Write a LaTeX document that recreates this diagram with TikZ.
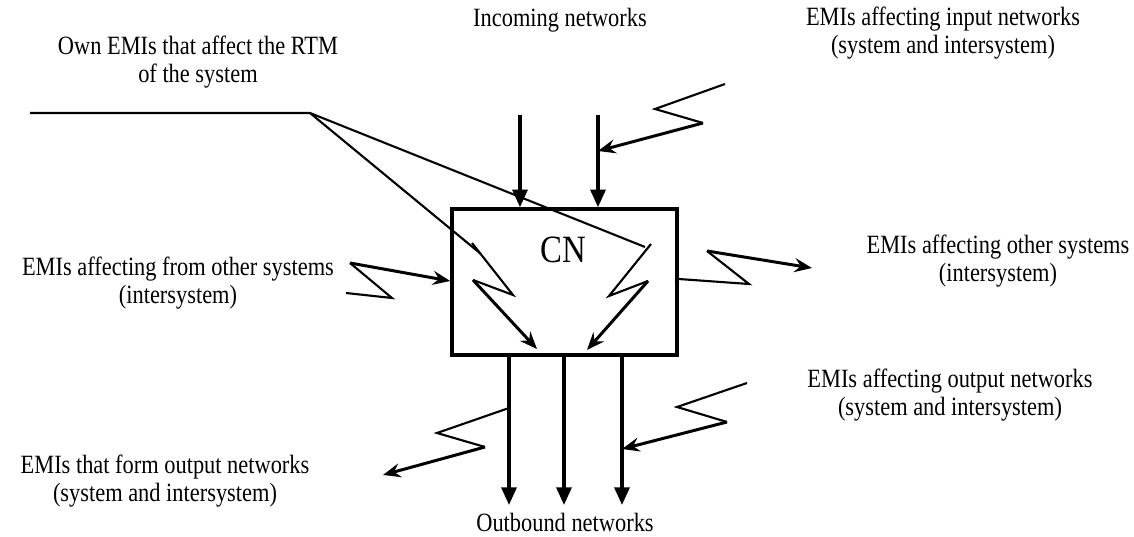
\documentclass[tikz,border=0pt]{standalone}
\usepackage{graphicx}
\usepackage{fontspec}
\setmainfont{Liberation Serif}
\usetikzlibrary{arrows.meta, positioning}

% narrow Times-like lettering of the labels
\newcommand{\narrowtext}[1]{\scalebox{0.85}[1]{#1}}
\newcommand{\emitext}[2]{\narrowtext{\begin{tabular}{@{}c@{}}#1\\#2\end{tabular}}}

\tikzset{
  netarrow/.style={line width=1.8pt, -{Triangle[length=10pt,width=8.5pt]}},
  zap/.style={line width=1.2pt, line join=miter},
  zaparrow/.style={line width=1.7pt, -{Stealth[length=10pt,width=8pt,inset=3.5pt]}},
  emilabel/.style={align=center, inner sep=0pt, font=\fontsize{15}{16}\selectfont},
}

\begin{document}
\begin{tikzpicture}[x=0.02cm, y=-0.02cm]
\useasboundingbox (0,0) rectangle (1134,537);

% the communication node
\node[draw, line width=2pt, minimum width=4.5cm, minimum height=2.92cm, inner sep=0pt] (cn) at (564.5,282) {};
\node[font=\fontsize{22}{24}\selectfont, inner sep=0pt] (cnname) at (563,250) {\narrowtext{CN}};

% incoming and outbound networks
\coordinate (in1) at (520,115);
\coordinate (in2) at (598,115);
\draw[netarrow] (in1) -- (in1 |- cn.north);
\draw[netarrow] (in2) -- (in2 |- cn.north);
\coordinate (out1) at (509,505);
\coordinate (out2) at (564,505);
\coordinate (out3) at (622,505);
\draw[netarrow] (out1 |- cn.south) -- (out1);
\draw[netarrow] (out2 |- cn.south) -- (out2);
\draw[netarrow] (out3 |- cn.south) -- (out3);

\node[emilabel] (incoming) at (560,20) {\narrowtext{Incoming networks}};
\node[emilabel] (outbound) at (565,522) {\narrowtext{Outbound networks}};

% own EMIs
\coordinate (rtmleft) at (30,113);
\coordinate (rtm) at (310,113);
\draw[zap] (rtmleft) -- (rtm) -- (481,254);
\draw[zap] (rtm) -- (645,247);
\draw[zap] (472,243) -- (513,295) -- (473,280);
\draw[zaparrow] (473,280) -- (537,349);
\draw[zap] (651,244) -- (609,296) -- (648,281);
\draw[zaparrow] (648,281) -- (587,350);
\node[emilabel] (ownemi) at (198,63) {\emitext{Own EMIs that affect the RTM}{of the system}};

% EMIs affecting input networks
\draw[zap] (725,84) -- (655,109) -- (703,123);
\draw[zaparrow] (703,123) -- (in2 |- 0,151);
\node[emilabel] (inemi) at (943,34) {\emitext{EMIs affecting input networks}{(system and intersystem)}};

% EMIs from other systems
\draw[zap] (346,293) -- (392,298) -- (350,263);
\draw[zaparrow] (350,263) -- (cn.west |- 0,281);
\node[emilabel] (fromemi) at (178,284) {\emitext{EMIs affecting from other systems}{(intersystem)}};

% EMIs to other systems
\draw[zap] (cn.east |- 0,279) -- (749,284) -- (707,251);
\draw[zaparrow] (707,251) -- (812,268);
\node[emilabel] (toemi) at (998,262) {\emitext{EMIs affecting other systems}{(intersystem)}};

% EMIs affecting output networks
\draw[zap] (747,383) -- (677,407) -- (727,422);
\draw[zaparrow] (727,422) -- (out3 |- 0,449);
\node[emilabel] (outemi) at (950,396) {\emitext{EMIs affecting output networks}{(system and intersystem)}};

% EMIs forming output networks
\draw[zap] (out1 |- 0,408) -- (437,433) -- (485,447);
\draw[zaparrow] (485,447) -- (383,475);
\node[emilabel] (formemi) at (165,482) {\emitext{EMIs that form output networks}{(system and intersystem)}};
\end{tikzpicture}
\end{document}
